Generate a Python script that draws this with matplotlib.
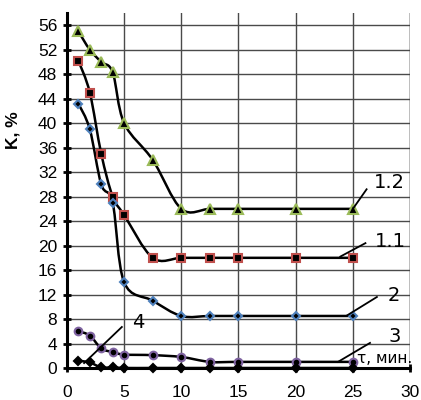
import matplotlib
matplotlib.use('Agg')
import matplotlib.pyplot as plt
from matplotlib.path import Path
from matplotlib.patches import PathPatch
import numpy as np

plt.rcParams['font.family'] = ['Liberation Sans', 'DejaVu Sans']

# время, мин
tau = [1, 2, 3, 4, 5, 7.5, 10, 12.5, 15, 20, 25]

# степень извлечения K, %
k_12 = [55, 52, 50, 48.3, 40, 34, 26, 26, 26, 26, 26]
k_11 = [50.2, 45, 35, 28, 25, 18, 18, 18, 18, 18, 18]
k_2 = [43.2, 39, 30, 27, 14, 11, 8.5, 8.5, 8.5, 8.5, 8.5]
k_3 = [6, 5.3, 3.2, 2.6, 2.2, 2.1, 1.8, 1.0, 1.0, 1.0, 1.0]
k_4 = [1.2, 0.9, 0.1, 0.1, 0, 0, 0, 0, 0, 0, 0]

xticks = [0, 5, 10, 15, 20, 25, 30]
yticks = list(range(0, 57, 4))


def smooth_path(x, y):
    # сглаженная линия как в Excel (Безье по Катмулл-Рому)
    pts = np.column_stack([x, y]).astype(float)
    n = len(pts)
    verts = [pts[0]]
    codes = [Path.MOVETO]
    for i in range(n - 1):
        p0 = pts[i - 1] if i > 0 else pts[i]
        p1 = pts[i]
        p2 = pts[i + 1]
        p3 = pts[i + 2] if i + 2 < n else pts[i + 1]
        c1 = p1 + (p2 - p0) / 6
        c2 = p2 - (p3 - p1) / 6
        verts += [c1, c2, p2]
        codes += [Path.CURVE4] * 3
    return Path(verts, codes)


fig = plt.figure(figsize=(4.21, 4.0), dpi=100)
ax = fig.add_axes([0.159, 0.08, 0.815, 0.8875])

series = [
    (k_12, '^', '#9BBB59', 6.5),
    (k_11, 's', '#C0504D', 6),
    (k_2, 'D', '#4F81BD', 4),
    (k_3, 'o', '#8064A2', 5.5),
    (k_4, 'D', 'black', 4),
]
for k, m, c, ms in series:
    ax.add_patch(PathPatch(smooth_path(tau, k), facecolor='none',
                           edgecolor='black', lw=1.8, zorder=3))
    ax.plot(tau, k, ls='none', marker=m, ms=ms, mfc='black', mec=c,
            mew=1.5, zorder=4, clip_on=False)

ax.set_xlim(0, 30)
ax.set_ylim(0, 58)
ax.set_xticks(xticks)
ax.set_yticks(yticks)
ax.grid(True, color='#4a4a4a', lw=1.0)
ax.set_axisbelow(True)
for s in ['top', 'right']:
    ax.spines[s].set_visible(False)
ax.axvline(30, color='#4a4a4a', lw=1.0, zorder=1)
for s in ['left', 'bottom']:
    ax.spines[s].set_linewidth(2.2)
    ax.spines[s].set_zorder(5)
ax.tick_params(direction='inout', length=6, width=2, labelsize=12.5,
               colors='black')
ax.tick_params(axis='x', pad=9)
ax.tick_params(axis='y', pad=4)

ax.set_ylabel('K, %', fontsize=12.5, fontweight='bold', labelpad=0)
ax.yaxis.set_label_coords(-0.135, 0.67)

# подписи кривых
labels = [
    ('1.2', (25, 26), (26.2, 29.2), (28.2, 30.3)),
    ('1.1', (23.9, 18.2), (26.1, 20.4), (28.3, 20.6)),
    ('2', (24.5, 8.6), (27.1, 11.6), (28.6, 11.8)),
    ('3', (23.7, 1.0), (26.5, 4.1), (28.7, 5.2)),
    ('4', (1.5, 0.8), (4.8, 6.7), (6.2, 7.4)),
]
for txt, p0, p1, pt in labels:
    ax.plot([p0[0], p1[0]], [p0[1], p1[1]], color='black', lw=1.3, zorder=5)
    ax.text(pt[0], pt[1], txt, fontsize=14, family='DejaVu Sans',
            ha='center', va='center', zorder=6)

ax.text(25.4, 1.6, 'τ, мин.', fontsize=11, family='DejaVu Sans',
        ha='left', va='center', zorder=6)

fig.savefig('out.png', dpi=100)
